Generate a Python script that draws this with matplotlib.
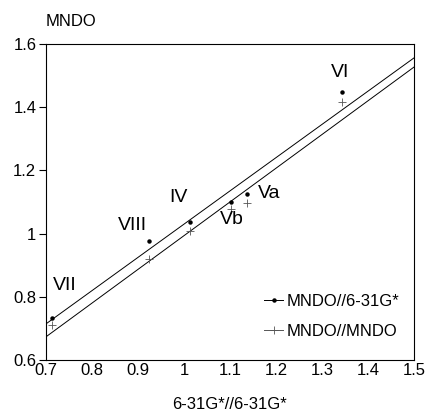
import matplotlib
matplotlib.use("Agg")
import matplotlib.pyplot as plt
from matplotlib.lines import Line2D
import numpy as np

plt.rcParams["font.family"] = ["Liberation Sans", "DejaVu Sans"]

# compounds and values
labels = ["VII", "VIII", "IV", "Vb", "Va", "VI"]
x_631 = [0.713, 0.924, 1.013, 1.102, 1.137, 1.343]
y_mndo_631 = [0.733, 0.977, 1.037, 1.100, 1.125, 1.448]
y_mndo_mndo = [0.710, 0.920, 1.008, 1.078, 1.097, 1.416]

# regression lines (intercept at x=0, slope)
fit_631 = (-0.0228, 1.0525)
fit_mndo = (-0.0743, 1.0675)

label_pos = {"VII": (0.741, 0.834), "VIII": (0.887, 1.024), "IV": (0.987, 1.113),
             "Vb": (1.104, 1.043), "Va": (1.185, 1.128), "VI": (1.339, 1.51)}

fig = plt.figure(figsize=(4.28, 4.16), dpi=100)
ax = fig.add_axes([0.1075, 0.135, 0.8595, 0.759])

xs = np.array([0.7, 1.5])
ax.plot(xs, fit_631[0] + fit_631[1] * xs, color="black", lw=0.7)
ax.plot(xs, fit_mndo[0] + fit_mndo[1] * xs, color="black", lw=0.7)

ax.plot(x_631, y_mndo_631, ls="none", marker="o", ms=2.2, color="black")
ax.plot(x_631, y_mndo_mndo, ls="none", marker="+", ms=6, mew=0.6, color="#555555")

for name in labels:
    lx, ly = label_pos[name]
    ax.text(lx, ly, name, fontsize=14, ha="center", va="center")

ax.set_xlim(0.7, 1.5)
ax.set_ylim(0.6, 1.6)
ax.set_xticks([0.7, 0.8, 0.9, 1.0, 1.1, 1.2, 1.3, 1.4, 1.5])
ax.set_xticklabels(["0.7", "0.8", "0.9", "1", "1.1", "1.2", "1.3", "1.4", "1.5"])
ax.set_yticks([0.6, 0.8, 1.0, 1.2, 1.4, 1.6])
ax.set_yticklabels(["0.6", "0.8", "1", "1.2", "1.4", "1.6"])
ax.tick_params(axis="x", length=0, pad=2, labelsize=12)
ax.tick_params(axis="y", length=5, width=0.8, pad=2, labelsize=12, direction="out")
for s in ax.spines.values():
    s.set_linewidth(0.8)

ax.set_xlabel("6-31G*//6-31G*", fontsize=12, labelpad=14)
fig.text(46 / 428, 1 - 22 / 416, "MNDO", fontsize=12, ha="left", va="center")

handles = [
    Line2D([0, 1], [0, 0], color="black", lw=0.7, marker="o", ms=2.2, markevery=[1]),
    Line2D([0, 1], [0, 0], color="#555555", lw=0.7, marker="+", ms=6, mew=0.6, markevery=[1]),
]
ax.legend(handles, ["MNDO//6-31G*", "MNDO//MNDO"], loc="lower right",
          bbox_to_anchor=(1.0, 0.02), frameon=False, fontsize=12,
          handlelength=1.1, handletextpad=0.2, labelspacing=0.9)

fig.savefig("out.png", dpi=100)
